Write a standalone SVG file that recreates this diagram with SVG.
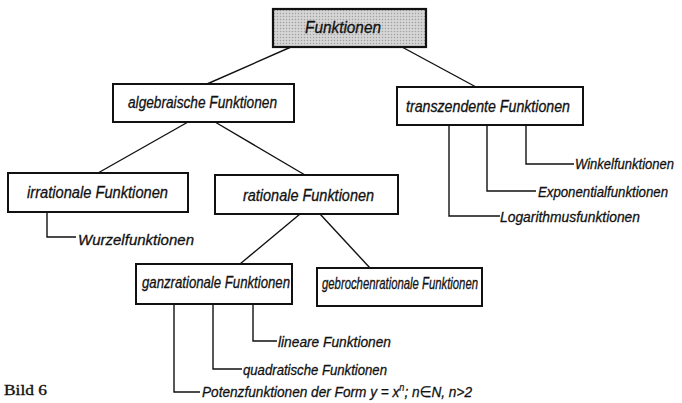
<svg xmlns="http://www.w3.org/2000/svg" width="682" height="403" viewBox="0 0 682 403">
  <defs>
    <pattern id="halftone" width="3" height="3" patternUnits="userSpaceOnUse">
      <rect width="3" height="3" fill="#d6d6d6"/>
      <circle cx="1.5" cy="1.5" r="0.75" fill="#a0a0a0"/>
    </pattern>
  </defs>
  <style>
    .box { fill: #ffffff; stroke: #111111; stroke-width: 2; }
    .root { fill: url(#halftone); stroke: #111111; stroke-width: 2.2; }
    .lbl { font-family: "Liberation Sans", "DejaVu Sans", sans-serif; font-style: italic; font-size: 16px; fill: #111111; stroke: #111111; stroke-width: 0.3; }
    .leaf { font-family: "Liberation Sans", "DejaVu Sans", sans-serif; font-style: italic; font-size: 15px; fill: #111111; stroke: #111111; stroke-width: 0.3; }
    .sup { font-size: 10px; stroke-width: 0.2; }
    .edge { fill: none; stroke: #111111; stroke-width: 1.4; }
    .cap { font-family: "Liberation Serif", "DejaVu Serif", serif; font-size: 15px; fill: #111111; stroke: #111111; stroke-width: 0.35; }
  </style>
  <rect width="682" height="403" fill="#ffffff"/>

  <!-- connectors -->
  <g id="connectors" class="edge">
    <line x1="291" y1="47" x2="207" y2="84"/>
    <line x1="402" y1="47" x2="476" y2="87"/>
    <line x1="188" y1="122" x2="98" y2="173"/>
    <line x1="215" y1="122" x2="305" y2="175"/>
    <line x1="300" y1="214" x2="240" y2="264"/>
    <line x1="320" y1="214" x2="370" y2="268"/>
    <path d="M47,212 V237 H76"/>
    <path d="M526,125 V164 H574"/>
    <path d="M487,125 V191 H536"/>
    <path d="M449,125 V216 H500"/>
    <path d="M253,304 V341 H277"/>
    <path d="M213,304 V369 H242"/>
    <path d="M174,304 V392 H200"/>
  </g>

  <!-- nodes -->
  <g id="funktionen">
    <rect class="root" x="273" y="9" width="153" height="38"/>
    <text class="lbl" x="305" y="33" font-size="17.5" textLength="76" lengthAdjust="spacingAndGlyphs">Funktionen</text>
  </g>
  <g id="algebraisch">
    <rect class="box" x="113" y="84" width="181" height="38"/>
    <text class="lbl" x="128" y="108" textLength="149" lengthAdjust="spacingAndGlyphs">algebraische Funktionen</text>
  </g>
  <g id="transzendent">
    <rect class="box" x="397" y="87" width="186" height="38"/>
    <text class="lbl" x="406" y="112" textLength="164" lengthAdjust="spacingAndGlyphs">transzendente Funktionen</text>
  </g>
  <g id="irrational">
    <rect class="box" x="8" y="173" width="180" height="39"/>
    <text class="lbl" x="27" y="198" textLength="141" lengthAdjust="spacingAndGlyphs">irrationale Funktionen</text>
  </g>
  <g id="rational">
    <rect class="box" x="215" y="175" width="183" height="39"/>
    <text class="lbl" x="243" y="201" textLength="131" lengthAdjust="spacingAndGlyphs">rationale Funktionen</text>
  </g>
  <g id="ganzrational">
    <rect class="box" x="136" y="264" width="156" height="40"/>
    <text class="lbl" x="142" y="288" textLength="148" lengthAdjust="spacingAndGlyphs">ganzrationale Funktionen</text>
  </g>
  <g id="gebrochenrational">
    <rect class="box" x="317" y="268" width="165" height="38"/>
    <text class="lbl" x="322" y="289" font-size="15" textLength="156" lengthAdjust="spacingAndGlyphs">gebrochenrationale Funktionen</text>
  </g>

  <!-- leaf labels -->
  <g id="wurzel">
    <text class="leaf" x="78" y="245" textLength="116" lengthAdjust="spacingAndGlyphs">Wurzelfunktionen</text>
  </g>
  <g id="winkel">
    <text class="leaf" x="575" y="169" textLength="99" lengthAdjust="spacingAndGlyphs">Winkelfunktionen</text>
  </g>
  <g id="exponential">
    <text class="leaf" x="538" y="197" textLength="130" lengthAdjust="spacingAndGlyphs">Exponentialfunktionen</text>
  </g>
  <g id="logarithmus">
    <text class="leaf" x="500" y="222" textLength="140" lengthAdjust="spacingAndGlyphs">Logarithmusfunktionen</text>
  </g>
  <g id="linear">
    <text class="leaf" x="278" y="347" textLength="113" lengthAdjust="spacingAndGlyphs">lineare Funktionen</text>
  </g>
  <g id="quadratisch">
    <text class="leaf" x="243" y="375" textLength="144" lengthAdjust="spacingAndGlyphs">quadratische Funktionen</text>
  </g>
  <g id="potenz">
    <text class="leaf" x="202" y="397" textLength="270" lengthAdjust="spacingAndGlyphs">Potenzfunktionen  der Form y = x<tspan class="sup" dy="-6">n</tspan><tspan dy="6">; n∈N, n&gt;2</tspan></text>
  </g>

  <!-- caption -->
  <text class="cap" x="4" y="395" textLength="43" lengthAdjust="spacingAndGlyphs">Bild 6</text>
</svg>
